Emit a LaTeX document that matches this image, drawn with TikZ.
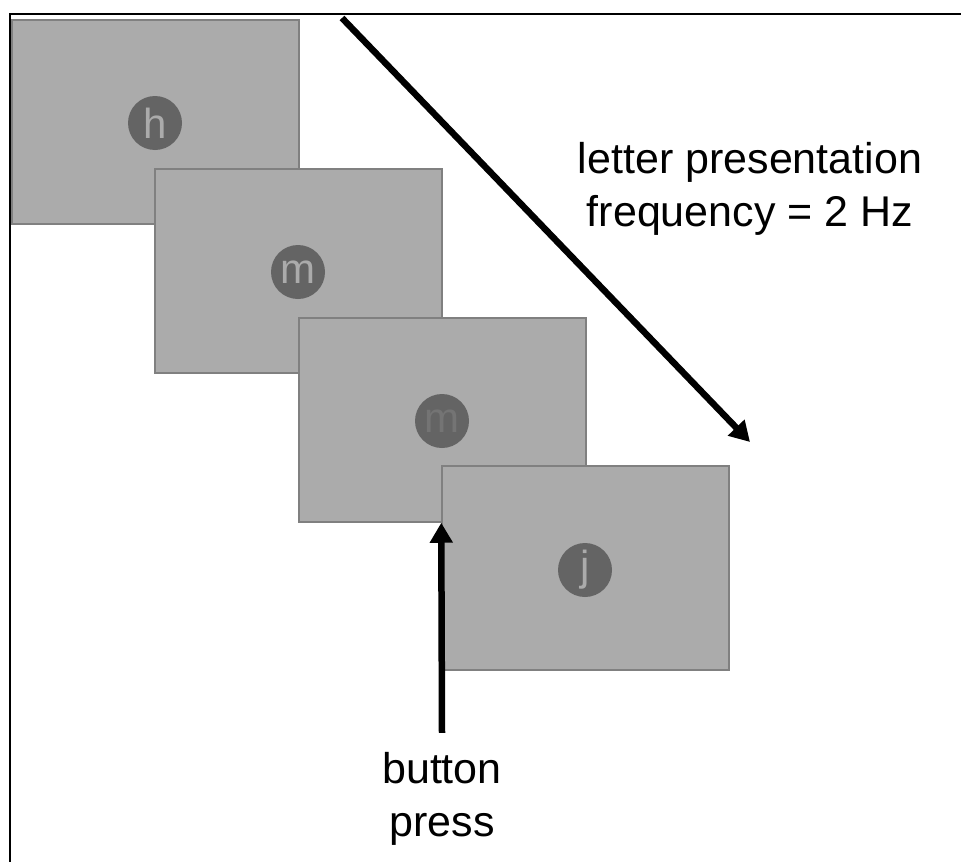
\documentclass[tikz,border=0pt]{standalone}
\usepackage{fontspec}
\setmainfont{Liberation Sans}
\usetikzlibrary{arrows.meta}
\definecolor{screengray}{HTML}{ABABAB}
\definecolor{screenedge}{HTML}{808080}
\definecolor{dotgray}{HTML}{646464}
\definecolor{fadegray}{HTML}{747474}
\tikzset{
  screen/.style={draw=screenedge,fill=screengray,line width=1.5pt,
    minimum width=287pt,minimum height=204pt,inner sep=0pt},
  letterdot/.style={circle,fill=dotgray,minimum size=54pt,inner sep=0pt,
    text=screengray,font=\fontsize{42}{42}\selectfont},
  bigarrow/.style={line width=6.5pt,-{Triangle[width=22pt,length=20pt]}},
  caption/.style={align=center,font=\fontsize{43}{53}\selectfont}
}
\begin{document}
\begin{tikzpicture}[x=1pt,y=-1pt]
\useasboundingbox (0,0) rectangle (961,862);
% frame
\draw[line width=2pt] (961,14) -| (10,862);
% letter screens
\node[screen] (s1) at (155.5,122) {};
\node[letterdot] (l1) at (155,123) {h};
\node[screen] (s2) at (298.5,271) {};
\node[letterdot] (l2) at (298,272) {m};
\node[screen] (s3) at (442.5,420) {};
\node[letterdot,text=fadegray] (l3) at (442,421) {m};
\node[screen] (s4) at (585.5,568) {};
\node[letterdot] (l4) at (585,570) {j};
% timing arrow
\coordinate (tstart) at (342,18);
\coordinate (tend) at (750,442);
\draw[bigarrow] (tstart) -- (tend);
\node[caption] (freq) at (750,189) {letter presentation\\frequency = 2 Hz};
% response
\node[caption] (press) at (442,799) {button\\press};
\draw[bigarrow] (press.north) ++(0,-16) coordinate (pstart) (pstart) -- (s3.south -| s4.west);
\end{tikzpicture}
\end{document}
